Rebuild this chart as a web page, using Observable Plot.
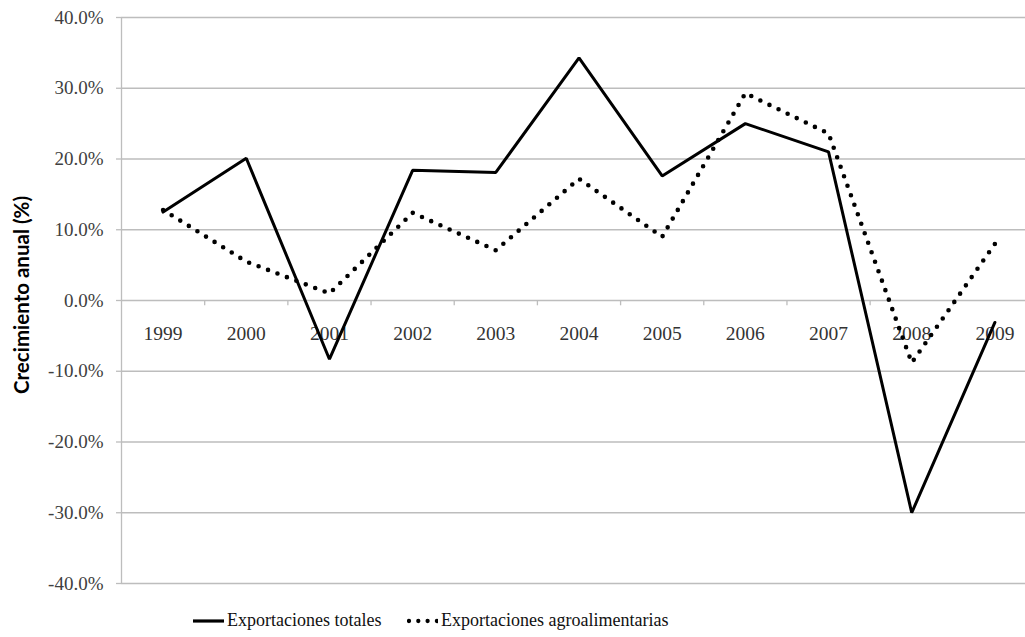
<!DOCTYPE html>
<html>
<head>
<meta charset="utf-8">
<script src="https://cdn.jsdelivr.net/npm/d3@7"></script>
<script src="https://cdn.jsdelivr.net/npm/@observablehq/plot@0.6"></script>
<style>
  html, body { margin: 0; padding: 0; background: #fff; overflow: hidden; }
  #wrap { position: relative; width: 1025px; height: 637px; }
  #ytitle {
    position: absolute; left: 21px; top: 295px;
    transform: translate(-50%, -50%) rotate(-90deg);
    font-family: Lato, "Open Sans", sans-serif; font-weight: 700; font-size: 20.5px;
    color: #000; white-space: nowrap; line-height: 1;
  }
  #legend {
    position: absolute; left: 0; top: 600px; height: 37px; width: 1025px;
    font-family: "Liberation Serif", "Times New Roman", serif; font-size: 18px; color: #111;
  }
  .item { position: absolute; top: 10px; display: flex; align-items: center; }
  .item svg { display: block; margin-right: 3px; }
</style>
</head>
<body>
<div id="wrap">
  <div id="chart"></div>
  <div id="ytitle">Crecimiento anual (%)</div>
  <div id="legend"></div>
</div>
<script>
const years = [1999, 2000, 2001, 2002, 2003, 2004, 2005, 2006, 2007, 2008, 2009];
const totales = [12.5, 20.1, -8.3, 18.4, 18.1, 34.3, 17.6, 25.0, 21.0, -30.0, -3.1];
const agro = [12.8, 5.5, 1.0, 12.4, 7.1, 17.2, 9.0, 29.3, 23.6, -8.8, 8.0];
const yTicks = [-40, -30, -20, -10, 0, 10, 20, 30, 40];
const seriesNames = ["Exportaciones totales", "Exportaciones agroalimentarias"];

const dataTot = years.map((y, i) => ({year: y, value: totales[i]}));
const dataAgro = years.map((y, i) => ({year: y, value: agro[i]}));
const boundaries = years.slice(1).map(y => y - 0.5);
const x0 = years[0] - 0.5;

const gray = "#bdbdbd";
const serif = "Liberation Serif, Times New Roman, serif";

const plot = Plot.plot({
  width: 1025,
  height: 600,
  marginLeft: 121,
  marginRight: 0,
  marginTop: 17,
  marginBottom: 17,
  style: {fontFamily: serif, fontSize: "19px", color: "#404040", background: "#fff", overflow: "visible"},
  x: {type: "linear", domain: [x0, years[years.length - 1] + 0.5], range: [121, 1036], axis: null},
  y: {domain: [-40, 40], axis: null},
  marks: [
    Plot.ruleY(yTicks, {stroke: gray, strokeWidth: 1.3}),
    Plot.ruleX([x0], {y1: -40, y2: 40, stroke: gray, strokeWidth: 1.3}),
    Plot.ruleY(yTicks, {x1: x0 - 0.06, x2: x0, stroke: gray, strokeWidth: 1.3}),
    Plot.text(yTicks, {
      x: x0, y: d => d, dx: -18, textAnchor: "end",
      text: d => d.toFixed(1) + "%", fontSize: 19, fontFamily: serif, fill: "#404040"
    }),
    Plot.ruleX(boundaries, {x: d => d, y1: 0, y2: -0.75, stroke: gray, strokeWidth: 1.3}),
    Plot.text(years, {x: d => d, y: 0, dy: 33, text: d => String(d), fontSize: 19.5, fontFamily: serif, fill: "#333"}),
    Plot.line(dataTot, {x: "year", y: "value", stroke: "#000", strokeWidth: 3, strokeLinejoin: "miter"}),
    Plot.line(dataAgro, {x: "year", y: "value", stroke: "#000", strokeWidth: 4.6, strokeDasharray: "0 10.1", strokeLinecap: "round"})
  ]
});
document.getElementById("chart").appendChild(plot);

const legend = document.getElementById("legend");
const styles = [
  {left: 193, dash: null, width: 3.2},
  {left: 407, dash: "0 9.3", width: 4.3}
];
seriesNames.forEach((name, i) => {
  const s = styles[i];
  const item = document.createElement("div");
  item.className = "item";
  item.style.left = s.left + "px";
  const ns = "http://www.w3.org/2000/svg";
  const svg = document.createElementNS(ns, "svg");
  svg.setAttribute("width", 31); svg.setAttribute("height", 14);
  const ln = document.createElementNS(ns, "line");
  ln.setAttribute("x1", s.dash ? 2 : 0); ln.setAttribute("x2", 31);
  ln.setAttribute("y1", 7); ln.setAttribute("y2", 7);
  ln.setAttribute("stroke", "#000"); ln.setAttribute("stroke-width", s.width);
  if (s.dash) { ln.setAttribute("stroke-dasharray", s.dash); ln.setAttribute("stroke-linecap", "round"); }
  svg.appendChild(ln);
  item.appendChild(svg);
  const t = document.createElement("span");
  t.textContent = name;
  item.appendChild(t);
  legend.appendChild(item);
});
</script>
</body>
</html>
